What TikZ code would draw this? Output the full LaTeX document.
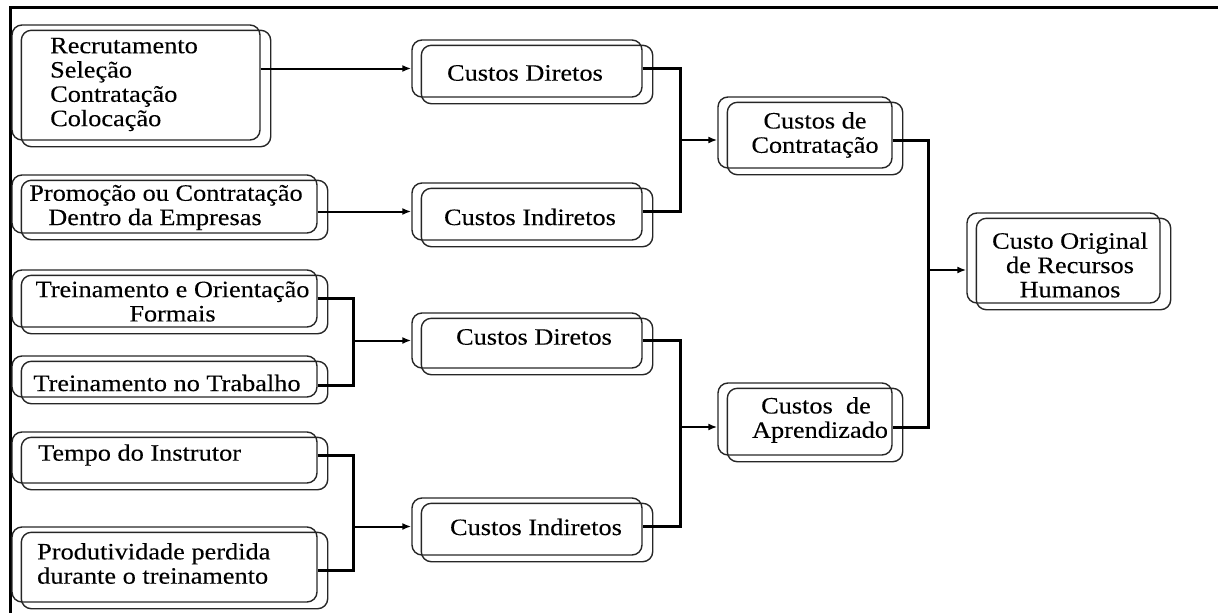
\documentclass[tikz,border=0pt]{standalone}
\usepackage{fontspec}
\setmainfont{Liberation Serif}[FakeStretch=1.12,FakeBold=0.2]
\usetikzlibrary{arrows.meta}
\begin{document}
\begin{tikzpicture}[x=1pt,y=-1pt,
  box/.style={draw=black!85, line width=1.4pt, rounded corners=10pt, inner sep=0pt},
  boxline/.style={draw=black!85, line width=1.4pt, rounded corners=10pt},
  txt/.style={font=\fontsize{23.5}{24.3}\selectfont, inner sep=0pt},
  arr/.style={line width=2pt, -{Latex[length=9pt,width=7pt]}},
  thk/.style={line width=3pt, line join=miter}
]
\useasboundingbox (0,0) rectangle (1218,613);
% frame
\draw[line width=3pt] (10.5,613) -- (10.5,7.5) -- (1218,7.5);
% boxes
\foreach \n/\cx/\cy/\w/\h in {
  rec/136/82.5/248/115,
  prom/164.5/204/305/58,
  tof/164.5/298.5/305/57,
  tnt/164.5/376.5/305/41,
  tdi/164.5/457.5/305/51,
  prod/164.5/564.5/305/75,
  cd1/527/68.5/230/57,
  ci1/527/211.5/230/57,
  cd2/527/340.5/230/55,
  ci2/527/526.5/230/57,
  cc/805/132.5/174/71,
  ca/805/419/174/72,
  co/1063.5/258/193/90}{
  \node[box, minimum width=\w pt, minimum height=\h pt] (\n) at (\cx,\cy) {};
  \draw[boxline] ([shift={(10,6)}]\n.south west) rectangle ([shift={(10,6)}]\n.north east);
}
% texts
\node[txt, anchor=west, align=left] (recT) at (50,84.5) {Recrutamento\\Seleção\\Contratação\\Colocação};
\node[txt, align=center] (promT) at (166,207.5) {Promoção ou Contratação\\Dentro da Empresas\hspace*{22pt}};
\node[txt, align=center] (tofT) at (172.5,301.5) {Treinamento e Orientação\\Formais};
\node[txt] (tntT) at (167,383) {Treinamento no Trabalho};
\node[txt, anchor=west] (tdiT) at (38,455) {Tempo do Instrutor};
\node[txt, anchor=west, align=left] (prodT) at (37,563.5) {Produtividade perdida\\durante o treinamento};
\node[txt] (cd1T) at (525,73) {Custos Diretos};
\node[txt] (ci1T) at (530,217) {Custos Indiretos};
\node[txt] (cd2T) at (534,337) {Custos Diretos};
\node[txt] (ci2T) at (536,527) {Custos Indiretos};
\node[txt, align=center] (ccT) at (815,135) {Custos de\\Contratação};
\node[txt, align=center] (caT) at (816,420) {Custos\ \ de\\\hspace*{8pt}Aprendizado};
\node[txt, align=center] (coT) at (1070,265) {Custo Original\\de Recursos\\Humanos};
% junction coordinates
\coordinate (v1) at (680,0);
\coordinate (v2) at (353,0);
\coordinate (v3) at (928,0);
\coordinate (j1) at (680,140);
\coordinate (j2) at (680,427);
\coordinate (j4) at (928,270);
\coordinate (o4) at ([yshift=-8.5pt]tnt.east);
\coordinate (o5) at ([yshift=2.5pt]tdi.east);
\coordinate (o6) at ([yshift=-5.5pt]prod.east);
% connectors
\draw[arr] (rec.east |- cd1.west) -- (cd1.west);
\draw[arr] (prom.east |- ci1.west) -- (ci1.west);
\draw[thk] (tof.east) -| (o4 -| v2) -- (o4);
\draw[arr] (v2 |- cd2.west) -- (cd2.west);
\draw[thk] (o5) -| (o6 -| v2) -- (o6);
\draw[arr] (v2 |- ci2.west) -- (ci2.west);
\draw[thk] (cd1.east) -| (v1 |- ci1.east) -- (ci1.east);
\draw[arr] (j1) -- (j1 -| cc.west);
\draw[thk] (cd2.east) -| (v1 |- ci2.east) -- (ci2.east);
\draw[arr] (j2) -- (j2 -| ca.west);
\draw[thk] (cc.east |- j1) -| (v3 |- j2) -- (ca.east |- j2);
\draw[arr] (j4) -- (j4 -| co.west);
\end{tikzpicture}
\end{document}
